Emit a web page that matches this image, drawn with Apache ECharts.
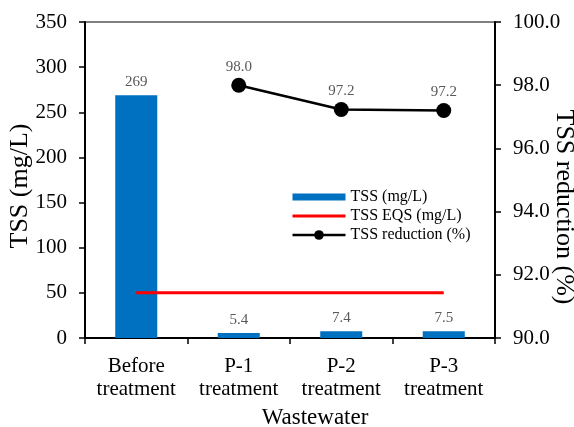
<!DOCTYPE html>
<html><head><meta charset="utf-8">
<script src="https://cdn.jsdelivr.net/npm/echarts@6/dist/echarts.min.js"></script>
<style>html,body{margin:0;padding:0;background:#fff;overflow:hidden}#c{width:574px;height:427px}</style>
</head><body><div id="c"></div>
<script>
const categories = ['Before\ntreatment', 'P-1\ntreatment', 'P-2\ntreatment', 'P-3\ntreatment'];
const tssValues = [269, 5.4, 7.4, 7.5];
const eqsValues = [50, 50, 50, 50];
const reductionValues = [null, 98.0, 97.23, 97.2];

const font = 'Liberation Serif';
const chart = echarts.init(document.getElementById('c'));
chart.setOption({
  animation: false,
  textStyle: { fontFamily: font },
  grid: { left: 85, right: 79, top: 22, bottom: 89, show: true, borderColor: '#000', borderWidth: 1,
          containLabel: false, outerBoundsMode: 'none' },
  legend: {
    orient: 'vertical', left: 286, top: 184, itemWidth: 53, itemHeight: 12, itemGap: 3,
    textStyle: { fontFamily: font, fontSize: 16, color: '#000' },
    data: [
      { name: 'TSS (mg/L)', icon: 'path://M0,0H52V7H0Z' },
      { name: 'TSS EQS (mg/L)', itemStyle: { color: 'rgba(0,0,0,0)', borderWidth: 0 }, lineStyle: { width: 3 } },
      { name: 'TSS reduction (%)', lineStyle: { width: 2.5 } }
    ]
  },
  xAxis: {
    type: 'category', data: categories,
    name: 'Wastewater', nameLocation: 'middle', nameGap: 68, nameMoveOverlap: false,
    nameTextStyle: { fontFamily: font, fontSize: 23, color: '#000', padding: [0, 0, 0, 50] },
    axisLine: { lineStyle: { color: '#000', width: 2 } },
    axisTick: { show: true, interval: 0, length: 6, lineStyle: { color: '#000', width: 1.5 } },
    axisLabel: { interval: 0, fontFamily: font, fontSize: 21, color: '#000', margin: 17, lineHeight: 23, hideOverlap: false }
  },
  yAxis: [{
    type: 'value', min: 0, max: 350, interval: 50,
    name: 'TSS (mg/L)', nameLocation: 'middle', nameGap: 52, nameMoveOverlap: false,
    nameTextStyle: { fontFamily: font, fontSize: 26, color: '#000', padding: [0, 12, 0, 0] },
    axisLine: { show: true, lineStyle: { color: '#000', width: 2 } },
    axisTick: { show: true, length: 6, lineStyle: { color: '#000', width: 1.5 } },
    axisLabel: { fontFamily: font, fontSize: 21, color: '#000', margin: 18 },
    splitLine: { show: false }
  }, {
    type: 'value', min: 90, max: 100, interval: 2, position: 'right',
    name: 'TSS reduction (%)', nameLocation: 'middle', nameGap: 56, nameRotate: -90, nameMoveOverlap: false,
    nameTextStyle: { fontFamily: font, fontSize: 26, color: '#000', padding: [0, 0, 0, 54] },
    axisLine: { show: true, lineStyle: { color: '#000', width: 2 } },
    axisTick: { show: true, length: 6, lineStyle: { color: '#000', width: 1.5 } },
    axisLabel: { fontFamily: font, fontSize: 21, color: '#000', margin: 18, formatter: v => v.toFixed(1) },
    splitLine: { show: false }
  }],
  series: [{
    name: 'TSS (mg/L)', type: 'bar', data: tssValues, barWidth: '41%',
    itemStyle: { color: '#0070C0' },
    label: { show: true, position: 'top', distance: 6, fontFamily: font, fontSize: 15, color: '#595959' }
  }, {
    name: 'TSS EQS (mg/L)', type: 'line', data: eqsValues, symbol: 'none',
    lineStyle: { color: '#FF0000', width: 3 }, itemStyle: { color: '#FF0000' }
  }, {
    name: 'TSS reduction (%)', type: 'line', yAxisIndex: 1, data: reductionValues,
    symbol: 'circle', symbolSize: 15,
    lineStyle: { color: '#000', width: 2.5 }, itemStyle: { color: '#000' },
    label: { show: true, position: 'top', distance: 3, fontFamily: font, fontSize: 15, color: '#595959', formatter: p => p.value.toFixed(1) }
  }]
});
</script></body></html>
